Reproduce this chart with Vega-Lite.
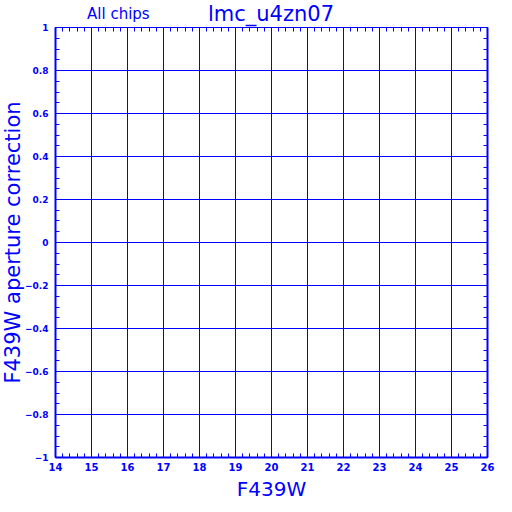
{
  "$schema": "https://vega.github.io/schema/vega-lite/v6.json",
  "width": 432,
  "height": 430,
  "autosize": {"type": "none"},
  "padding": {"left": 55, "top": 27, "right": 25, "bottom": 55},
  "background": "white",
  "data": {"values": [{"label": "All chips", "title": "lmc_u4zn07"}]},
  "config": {
    "view": {"stroke": null},
    "axis": {
      "domainColor": "#0000ff",
      "tickColor": "#0000ff",
      "gridColor": "#0000ff",
      "gridOpacity": 1,
      "gridWidth": 1,
      "labelColor": "#0000ff",
      "titleColor": "#0000ff",
      "labelFont": "DejaVu Sans",
      "titleFont": "DejaVu Sans",
      "titleFontWeight": "normal",
      "labelFlush": false,
      "labelOverlap": false
    }
  },
  "layer": [
    {
      "mark": {"type": "text", "fontSize": 15, "font": "DejaVu Sans", "color": "#0000ff", "baseline": "alphabetic"},
      "encoding": {
        "x": {
          "datum": 15.76, "type": "quantitative",
          "scale": {"domain": [14, 26], "nice": false, "zero": false},
          "axis": {"orient": "bottom", "values": [14, 15, 16, 17, 18, 19, 20, 21, 22, 23, 24, 25, 26], "grid": true, "ticks": false, "domain": false, "format": "d", "labelFontSize": 10, "labelFontWeight": "bold", "labelPadding": 5, "title": "F439W", "titleFontSize": 20, "titlePadding": 7}
        },
        "y": {
          "datum": 1.035, "type": "quantitative",
          "scale": {"domain": [-1, 1], "nice": false, "zero": false},
          "axis": {"orient": "left", "values": [-1, -0.8, -0.6, -0.4, -0.2, 0, 0.2, 0.4, 0.6, 0.8, 1], "grid": true, "ticks": false, "domain": false, "format": "~g", "labelFontSize": 9, "labelFontWeight": "bold", "labelPadding": 7, "title": "F439W aperture correction", "titleFontSize": 21, "titlePadding": 1}
        },
        "text": {"field": "label"}
      }
    },
    {
      "mark": {"type": "text", "fontSize": 21, "font": "DejaVu Sans", "color": "#0000ff", "baseline": "alphabetic"},
      "encoding": {
        "x": {"datum": 20, "type": "quantitative", "scale": {"domain": [14, 26], "nice": false, "zero": false}, "axis": null},
        "y": {"datum": 1.026, "type": "quantitative", "scale": {"domain": [-1, 1], "nice": false, "zero": false}, "axis": null},
        "text": {"field": "title"}
      }
    },
    {
      "mark": {"type": "point", "opacity": 0},
      "encoding": {
        "x": {
          "datum": 20, "type": "quantitative",
          "scale": {"domain": [14, 26], "nice": false, "zero": false},
          "axis": {"orient": "top", "values": [14,14.2,14.4,14.6,14.8,15,15.2,15.4,15.6,15.8,16,16.2,16.4,16.6,16.8,17,17.2,17.4,17.6,17.8,18,18.2,18.4,18.6,18.8,19,19.2,19.4,19.6,19.8,20,20.2,20.4,20.6,20.8,21,21.2,21.4,21.6,21.8,22,22.2,22.4,22.6,22.8,23,23.2,23.4,23.6,23.8,24,24.2,24.4,24.6,24.8,25,25.2,25.4,25.6,25.8,26], "grid": false, "labels": false, "ticks": true, "tickSize": -4, "domain": true, "domainWidth": 1, "title": null}
        },
        "y": {
          "datum": 0, "type": "quantitative",
          "scale": {"domain": [-1, 1], "nice": false, "zero": false},
          "axis": {"orient": "right", "values": [-1,-0.95,-0.9,-0.85,-0.8,-0.75,-0.7,-0.65,-0.6,-0.55,-0.5,-0.45,-0.4,-0.35,-0.3,-0.25,-0.2,-0.15,-0.1,-0.05,0,0.05,0.1,0.15,0.2,0.25,0.3,0.35,0.4,0.45,0.5,0.55,0.6,0.65,0.7,0.75,0.8,0.85,0.9,0.95,1], "grid": false, "labels": false, "ticks": true, "tickSize": -4, "domain": true, "domainWidth": 2, "title": null}
        }
      }
    },
    {
      "mark": {"type": "point", "opacity": 0},
      "encoding": {
        "x": {
          "datum": 20, "type": "quantitative",
          "scale": {"domain": [14, 26], "nice": false, "zero": false},
          "axis": {"orient": "bottom", "values": [14,14.2,14.4,14.6,14.8,15,15.2,15.4,15.6,15.8,16,16.2,16.4,16.6,16.8,17,17.2,17.4,17.6,17.8,18,18.2,18.4,18.6,18.8,19,19.2,19.4,19.6,19.8,20,20.2,20.4,20.6,20.8,21,21.2,21.4,21.6,21.8,22,22.2,22.4,22.6,22.8,23,23.2,23.4,23.6,23.8,24,24.2,24.4,24.6,24.8,25,25.2,25.4,25.6,25.8,26], "grid": false, "labels": false, "ticks": true, "tickSize": -4, "domain": true, "domainWidth": 2, "title": null}
        },
        "y": {
          "datum": 0, "type": "quantitative",
          "scale": {"domain": [-1, 1], "nice": false, "zero": false},
          "axis": {"orient": "left", "values": [-1,-0.95,-0.9,-0.85,-0.8,-0.75,-0.7,-0.65,-0.6,-0.55,-0.5,-0.45,-0.4,-0.35,-0.3,-0.25,-0.2,-0.15,-0.1,-0.05,0,0.05,0.1,0.15,0.2,0.25,0.3,0.35,0.4,0.45,0.5,0.55,0.6,0.65,0.7,0.75,0.8,0.85,0.9,0.95,1], "grid": false, "labels": false, "ticks": true, "tickSize": -4, "domain": true, "domainWidth": 2, "title": null}
        }
      }
    }
  ],
  "resolve": {"axis": {"x": "independent", "y": "independent"}}
}
